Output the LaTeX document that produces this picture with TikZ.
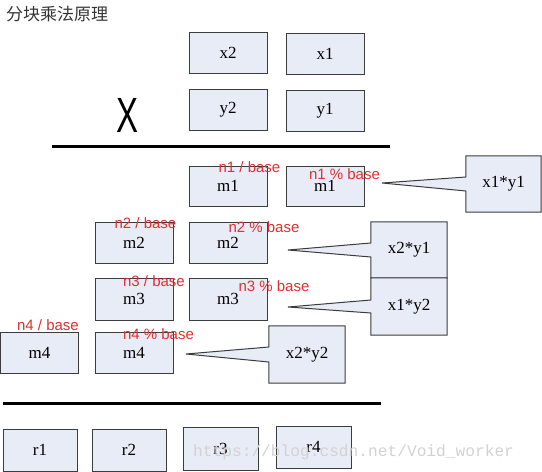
\documentclass[tikz,border=0pt]{standalone}
\usepackage{fontspec}
\usepackage{graphicx}
\setmainfont{Liberation Serif}
\newfontfamily\cjkfont{Noto Sans CJK SC}
\newfontfamily\lsans{Liberation Sans}
\newfontfamily\lmono{Liberation Mono}
\usetikzlibrary{calc,backgrounds}
\definecolor{boxfill}{HTML}{E8ECF6}
\definecolor{boxdraw}{HTML}{3C3C3C}
\definecolor{lblred}{HTML}{E03030}
\definecolor{wmark}{HTML}{D2D2D2}
\begin{document}
\begin{tikzpicture}[x=1pt,y=-1pt,
  blk/.style={draw=boxdraw,fill=boxfill,line width=1pt,minimum width=78pt,minimum height=41pt,inner sep=0pt,font=\fontsize{17}{17}\selectfont},
  cbox/.style={minimum width=76pt,minimum height=56pt,inner sep=0pt,font=\fontsize{17}{17}\selectfont},
  cshape/.style={draw=boxdraw,fill=boxfill,line width=1pt,line join=miter},
  lbl/.style={text=lblred,font=\lsans\fontsize{15}{15}\selectfont,inner sep=0pt,anchor=base},
  rulestyle/.style={line width=3pt}]
\useasboundingbox (0,0) rectangle (542,472);
% title
\node[anchor=west,inner sep=0pt,font=\cjkfont\fontsize{17}{17}\selectfont,text=black!80] (title) at (6,14) {分块乘法原理};
% operands
\node[blk] (x2) at (228,53) {x2};
\node[blk] (x1) at (325,53.5) {x1};
\node[blk] (y2) at (228,110) {y2};
\node[blk] (y1) at (325,110.5) {y1};
\node[inner sep=0pt,font=\lsans\fontsize{30}{30}\selectfont] (mul) at (127.5,115) {\scalebox{1.1}[1.65]{X}};
\coordinate (r1a) at (52,146);
\coordinate (r1b) at (390,146);
\draw[rulestyle] (r1a) -- (r1b);
% partial products
\node[blk,minimum height=40pt] (m1a) at (228,186) {m1};
\node[blk,minimum height=40pt] (m1b) at (325,186) {m1};
\node[blk] (m2a) at (134,242.5) {m2};
\node[blk] (m2b) at (228,242.5) {m2};
\node[blk,minimum height=42pt] (m3a) at (134,299) {m3};
\node[blk,minimum height=42pt] (m3b) at (228,299) {m3};
\node[blk] (m4a) at (39.5,352.5) {m4};
\node[blk] (m4b) at (134,352.5) {m4};
% callouts
\node[cbox,minimum width=75pt] (c1) at (503.5,184) {x1*y1};
\coordinate (t1) at (382,183);
\node[cbox] (c2) at (409,250) {x2*y1};
\coordinate (t2) at (288,250);
\node[cbox,minimum height=57pt] (c3) at (409,306.5) {x1*y2};
\coordinate (t3) at (288,307);
\node[cbox,minimum height=57pt] (c4) at (307,354.5) {x2*y2};
\coordinate (t4) at (186,354);
\begin{scope}[on background layer]
\path[cshape] (c1.north west) -- ($(c1.west)+(0,-7)$) -- (t1) -- ($(c1.west)+(0,7)$) -- (c1.south west) -- (c1.south east) -- (c1.north east) -- cycle;
\path[cshape] (c2.north west) -- ($(c2.west)+(0,-7)$) -- (t2) -- ($(c2.west)+(0,7)$) -- (c2.south west) -- (c2.south east) -- (c2.north east) -- cycle;
\path[cshape] (c3.north west) -- ($(c3.west)+(0,-6.5)$) -- (t3) -- ($(c3.west)+(0,6.5)$) -- (c3.south west) -- (c3.south east) -- (c3.north east) -- cycle;
\path[cshape] (c4.north west) -- ($(c4.west)+(0,-7.5)$) -- (t4) -- ($(c4.west)+(0,7.5)$) -- (c4.south west) -- (c4.south east) -- (c4.north east) -- cycle;
\end{scope}
% second rule
\coordinate (r2a) at (3,403);
\coordinate (r2b) at (381,403);
\draw[rulestyle] (r2a) -- (r2b);
% results
\node[blk,minimum width=74pt,minimum height=42pt] (r1) at (40,450) {r1};
\node[blk,minimum width=74pt,minimum height=42pt] (r2) at (129,450) {r2};
\node[blk,minimum width=75pt,minimum height=43pt] (r3) at (220.5,448.5) {r3};
\node[blk,minimum width=75pt,minimum height=42pt] (r4) at (313.5,447) {r4};
% red labels
\node[lbl] (l1) at (249.5,172) {n1 / base};
\node[lbl] (l2) at (344.5,179) {n1 \% base};
\node[lbl] (l3) at (145.5,228) {n2 / base};
\node[lbl] (l4) at (264,232) {n2 \% base};
\node[lbl] (l5) at (154,286) {n3 / base};
\node[lbl] (l6) at (274,291) {n3 \% base};
\node[lbl] (l7) at (48,330) {n4 / base};
\node[lbl] (l8) at (158.5,339) {n4 \% base};
% watermark
\node[anchor=base west,inner sep=0pt,text=wmark,font=\lmono\fontsize{16.2}{16.2}\selectfont] (wm) at (193,456) {https://blog.csdn.net/Void\_worker};
\end{tikzpicture}
\end{document}
